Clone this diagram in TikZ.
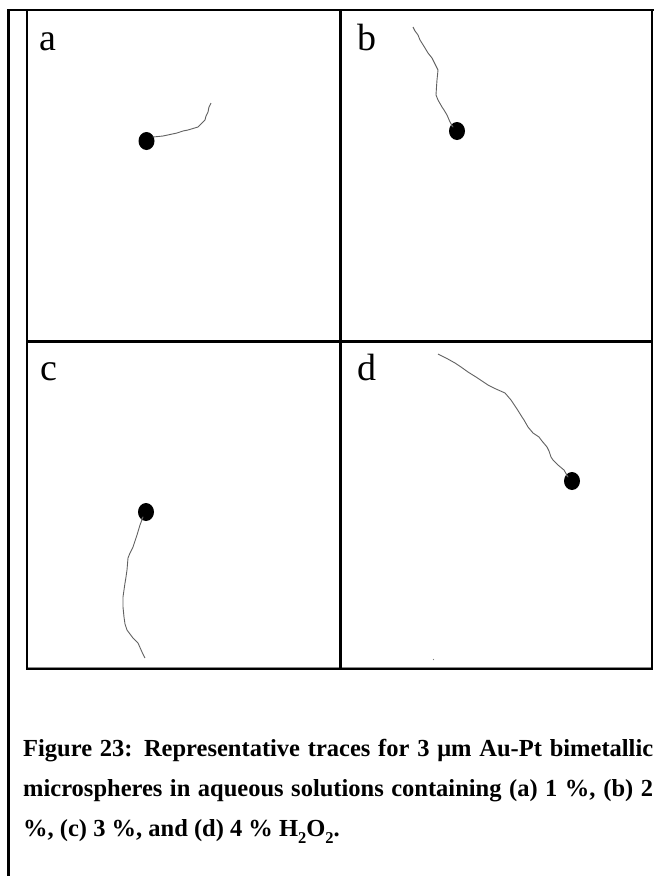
\documentclass[tikz,border=0pt]{standalone}
\usepackage{fontspec}
\setmainfont{Liberation Serif}
\newcommand\lowsub[1]{\raisebox{-0.3em}{\fontsize{16.5}{16.5}\selectfont #1}}
\begin{document}
\begin{tikzpicture}[x=1pt,y=-1pt,
  frameline/.style={line width=2.2pt,line cap=rect},
  boxline/.style={line width=1.4pt},
  divider/.style={line width=3pt},
  trace/.style={draw=black!62,line width=0.9pt,line join=round},
  bead/.style={ellipse,fill=black,minimum width=16pt,minimum height=18pt,inner sep=0pt},
  panellabel/.style={anchor=base west,inner sep=0pt,font=\fontsize{38}{38}\selectfont},
  caption/.style={anchor=base west,inner sep=0pt,font=\fontsize{24.5}{28}\selectfont\bfseries}]
\usetikzlibrary{shapes.geometric}
\useasboundingbox (0,0) rectangle (657,876);
\fill[white] (0,0) rectangle (657,876);
% outer frame
\coordinate (ftl) at (8.5,10);
\coordinate (fbl) at (8.5,876);
\coordinate (ftr) at (653,10);
\draw[frameline] (fbl) -- (ftl) -- (ftr);
% image box
\coordinate (btl) at (27,10);
\coordinate (bbl) at (27,669);
\coordinate (bbr) at (652,669);
\coordinate (btr) at (652,10);
\draw[line width=1pt,black!45] ([yshift=1.5pt]bbl) -- ([yshift=1.5pt]bbr);
\draw[boxline] (btl) -- (bbl) -- (bbr) -- (btr);
% dividers
\coordinate (vt) at (340,10);
\coordinate (vb) at (340,669);
\coordinate (hl) at (27,341);
\coordinate (hr) at (652,341);
\draw[divider] (vt) -- (vb);
\draw[divider] (hl) -- (hr);
% labels
\node[panellabel] (la) at (39,50) {a};
\node[panellabel] (lb) at (357,50) {b};
\node[panellabel] (lc) at (40,380) {c};
\node[panellabel] (ld) at (357,380) {d};
% traces and beads
\node[bead] (da) at (146.5,141) {};
\node[bead] (db) at (457,131) {};
\node[bead] (dc) at (146,512) {};
\node[bead] (dd) at (572,481) {};
\draw[trace] (da) -- (153,137) -- (163,136) -- (170,134.5) -- (177,133) -- (183,131) -- (188,130) -- (193,128.5) -- (198,127) -- (202,123) -- (205,120) -- (206,116) -- (208,112) -- (209,107) -- (211,103);
\draw[trace] (db) -- (453,127) -- (450,122) -- (447,115) -- (444,110) -- (442,107) -- (438,100) -- (436,95) -- (436.5,87) -- (437,80) -- (438,70) -- (435,64) -- (432,58) -- (428,53) -- (425,48) -- (420,40) -- (418,35) -- (415,31) -- (413,27);
\draw[trace] (dc) -- (143,517) -- (140,525) -- (137,535) -- (135,541) -- (133,547) -- (130,553) -- (128,558) -- (127,570) -- (126,577) -- (125,583) -- (124,590) -- (123,597) -- (123,607) -- (124,617) -- (125,624) -- (127,630) -- (130,634) -- (133,638) -- (138,643) -- (142,652) -- (145,658);
\draw[trace] (dd) -- (568,477) -- (564,470) -- (558,465) -- (556,463) -- (553,460) -- (551,457) -- (549,451) -- (547,447) -- (542,441) -- (539,437) -- (533,433) -- (528,427) -- (524,420) -- (522,417) -- (517,409) -- (511,400) -- (505,393) -- (496,389) -- (488,385) -- (482,381) -- (476,377) -- (468,372) -- (461,367) -- (455,363) -- (446,358) -- (438,354);
\fill[black!50] (433.5,659.5) circle (0.6pt);
% caption
\node[caption] (cap1) at (23,756) {\makebox[630pt][s]{Figure 23: Representative traces for 3 μm Au-Pt bimetallic}};
\node[caption] (cap2) at (23,796) {\makebox[630pt][s]{microspheres in aqueous solutions containing (a) 1 \%, (b) 2}};
\node[caption] (cap3) at (23,836) {\%, (c) 3 \%, and (d) 4 \% H\lowsub{2}O\lowsub{2}.};
\end{tikzpicture}
\end{document}
